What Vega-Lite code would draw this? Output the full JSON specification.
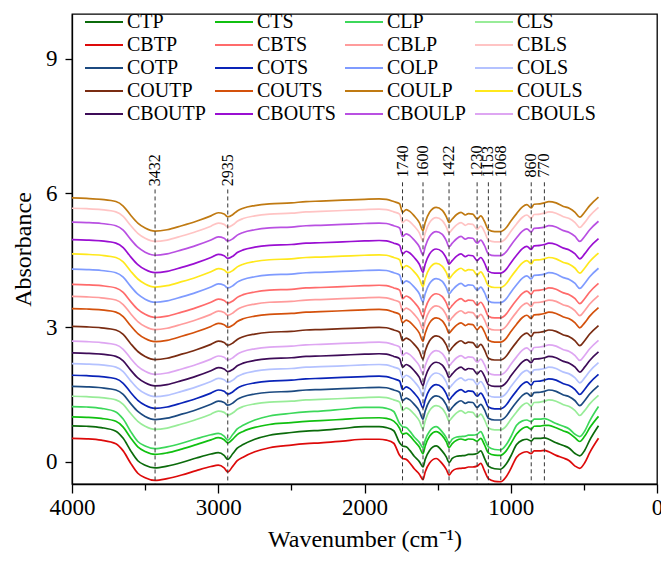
{
  "$schema": "https://vega.github.io/schema/vega-lite/v6.json",
  "width": 585,
  "height": 470,
  "autosize": {"type": "none"},
  "padding": {"left": 72, "top": 14, "right": 4, "bottom": 78},
  "background": "white",
  "config": {
    "font": "Liberation Serif, Times New Roman, Times, serif",
    "view": {"stroke": "black", "strokeWidth": 1.3},
    "text": {"font": "Liberation Serif, Times New Roman, Times, serif"},
    "axis": {"grid": false, "domainColor": "black", "domainWidth": 1.3, "tickColor": "black", "tickWidth": 1.3, "labelColor": "black", "titleColor": "black", "labelFont": "Liberation Serif, Times New Roman, Times, serif", "titleFont": "Liberation Serif, Times New Roman, Times, serif", "labelFontSize": 23, "titleFontSize": 24, "titleFontWeight": "normal"},
    "legend": {"labelFont": "Liberation Serif, Times New Roman, Times, serif"}
  },
  "datasets": {
    "spectra": [
      {"w":4000,"CBTP":0.52,"CTP":0.80,"CTS":1.00,"CLP":1.23,"CLS":1.46,"COTP":1.68,"COTS":1.93,"COLS":2.19,"CBOUTP":2.43,"CBOULS":2.69,"COUTP":3.02,"COUTS":3.42,"CBLP":3.69,"CBTS":3.96,"COLP":4.30,"COULS":4.64,"CBOUTS":4.96,"CBOULP":5.35,"CBLS":5.66,"COULP":5.89},
      {"w":3900,"CBTP":0.51,"CTP":0.79,"CTS":0.99,"CLP":1.22,"CLS":1.45,"COTP":1.67,"COTS":1.92,"COLS":2.18,"CBOUTP":2.42,"CBOULS":2.68,"COUTP":3.01,"COUTS":3.41,"CBLP":3.68,"CBTS":3.95,"COLP":4.29,"COULS":4.63,"CBOUTS":4.95,"CBOULP":5.34,"CBLS":5.65,"COULP":5.88},
      {"w":3800,"CBTP":0.48,"CTP":0.76,"CTS":0.965,"CLP":1.19,"CLS":1.43,"COTP":1.65,"COTS":1.90,"COLS":2.16,"CBOUTP":2.40,"CBOULS":2.66,"COUTP":2.99,"COUTS":3.39,"CBLP":3.66,"CBTS":3.93,"COLP":4.27,"COULS":4.61,"CBOUTS":4.93,"CBOULP":5.32,"CBLS":5.63,"COULP":5.86},
      {"w":3700,"CBTP":0.40,"CTP":0.68,"CTS":0.90,"CLP":1.11,"CLS":1.38,"COTP":1.60,"COTS":1.85,"COLS":2.11,"CBOUTP":2.35,"CBOULS":2.61,"COUTP":2.94,"COUTS":3.34,"CBLP":3.61,"CBTS":3.88,"COLP":4.22,"COULS":4.56,"CBOUTS":4.88,"CBOULP":5.27,"CBLS":5.58,"COULP":5.81},
      {"w":3650,"CBTP":0.24,"CTP":0.52,"CTS":0.77,"CLP":0.95,"CLS":1.28,"COTP":1.50,"COTS":1.75,"COLS":2.01,"CBOUTP":2.25,"CBOULS":2.51,"COUTP":2.84,"COUTS":3.24,"CBLP":3.51,"CBTS":3.78,"COLP":4.12,"COULS":4.46,"CBOUTS":4.78,"CBOULP":5.17,"CBLS":5.48,"COULP":5.71},
      {"w":3600,"CBTP":-0.03,"CTP":0.25,"CTS":0.535,"CLP":0.68,"CLS":1.08,"COTP":1.30,"COTS":1.55,"COLS":1.81,"CBOUTP":2.05,"CBOULS":2.31,"COUTP":2.64,"COUTS":3.04,"CBLP":3.31,"CBTS":3.58,"COLP":3.92,"COULS":4.26,"CBOUTS":4.58,"CBOULP":4.97,"CBLS":5.28,"COULP":5.51},
      {"w":3550,"CBTP":-0.26,"CTP":0.02,"CTS":0.33,"CLP":0.45,"CLS":0.90,"COTP":1.12,"COTS":1.37,"COLS":1.63,"CBOUTP":1.87,"CBOULS":2.13,"COUTP":2.46,"COUTS":2.86,"CBLP":3.13,"CBTS":3.40,"COLP":3.74,"COULS":4.08,"CBOUTS":4.40,"CBOULP":4.79,"CBLS":5.10,"COULP":5.33},
      {"w":3500,"CBTP":-0.36,"CTP":-0.08,"CTS":0.225,"CLP":0.35,"CLS":0.79,"COTP":1.01,"COTS":1.26,"COLS":1.52,"CBOUTP":1.76,"CBOULS":2.02,"COUTP":2.35,"COUTS":2.75,"CBLP":3.02,"CBTS":3.29,"COLP":3.63,"COULS":3.97,"CBOUTS":4.29,"CBOULP":4.68,"CBLS":4.99,"COULP":5.22},
      {"w":3432,"CBTP":-0.42,"CTP":-0.14,"CTS":0.16,"CLP":0.29,"CLS":0.72,"COTP":0.94,"COTS":1.19,"COLS":1.45,"CBOUTP":1.69,"CBOULS":1.95,"COUTP":2.28,"COUTS":2.68,"CBLP":2.95,"CBTS":3.22,"COLP":3.56,"COULS":3.90,"CBOUTS":4.22,"CBOULP":4.61,"CBLS":4.92,"COULP":5.15},
      {"w":3350,"CBTP":-0.38,"CTP":-0.10,"CTS":0.195,"CLP":0.33,"CLS":0.75,"COTP":0.97,"COTS":1.22,"COLS":1.48,"CBOUTP":1.72,"CBOULS":1.98,"COUTP":2.31,"COUTS":2.71,"CBLP":2.98,"CBTS":3.25,"COLP":3.59,"COULS":3.93,"CBOUTS":4.25,"CBOULP":4.64,"CBLS":4.95,"COULP":5.18},
      {"w":3250,"CBTP":-0.30,"CTP":-0.02,"CTS":0.28,"CLP":0.41,"CLS":0.84,"COTP":1.06,"COTS":1.31,"COLS":1.57,"CBOUTP":1.81,"CBOULS":2.07,"COUTP":2.40,"COUTS":2.80,"CBLP":3.07,"CBTS":3.34,"COLP":3.68,"COULS":4.02,"CBOUTS":4.34,"CBOULP":4.73,"CBLS":5.04,"COULP":5.27},
      {"w":3150,"CBTP":-0.20,"CTP":0.08,"CTS":0.38,"CLP":0.51,"CLS":0.94,"COTP":1.16,"COTS":1.41,"COLS":1.67,"CBOUTP":1.91,"CBOULS":2.17,"COUTP":2.50,"COUTS":2.90,"CBLP":3.17,"CBTS":3.44,"COLP":3.78,"COULS":4.12,"CBOUTS":4.44,"CBOULP":4.83,"CBLS":5.14,"COULP":5.37},
      {"w":3050,"CBTP":-0.11,"CTP":0.17,"CTS":0.485,"CLP":0.60,"CLS":1.06,"COTP":1.28,"COTS":1.53,"COLS":1.79,"CBOUTP":2.03,"CBOULS":2.29,"COUTP":2.62,"COUTS":3.02,"CBLP":3.29,"CBTS":3.56,"COLP":3.90,"COULS":4.24,"CBOUTS":4.56,"CBOULP":4.95,"CBLS":5.26,"COULP":5.49},
      {"w":3000,"CBTP":-0.08,"CTP":0.20,"CTS":0.535,"CLP":0.63,"CLS":1.13,"COTP":1.35,"COTS":1.60,"COLS":1.86,"CBOUTP":2.10,"CBOULS":2.36,"COUTP":2.69,"COUTS":3.09,"CBLP":3.36,"CBTS":3.63,"COLP":3.97,"COULS":4.31,"CBOUTS":4.63,"CBOULP":5.02,"CBLS":5.33,"COULP":5.56},
      {"w":2960,"CBTP":-0.14,"CTP":0.14,"CTS":0.49,"CLP":0.57,"CLS":1.10,"COTP":1.32,"COTS":1.57,"COLS":1.83,"CBOUTP":2.07,"CBOULS":2.33,"COUTP":2.66,"COUTS":3.06,"CBLP":3.33,"CBTS":3.60,"COLP":3.94,"COULS":4.28,"CBOUTS":4.60,"CBOULP":4.99,"CBLS":5.30,"COULP":5.53},
      {"w":2935,"CBTP":-0.23,"CTP":0.05,"CTS":0.415,"CLP":0.48,"CLS":1.04,"COTP":1.26,"COTS":1.51,"COLS":1.77,"CBOUTP":2.01,"CBOULS":2.27,"COUTP":2.60,"COUTS":3.00,"CBLP":3.27,"CBTS":3.54,"COLP":3.88,"COULS":4.22,"CBOUTS":4.54,"CBOULP":4.93,"CBLS":5.24,"COULP":5.47},
      {"w":2900,"CBTP":-0.10,"CTP":0.18,"CTS":0.505,"CLP":0.61,"CLS":1.09,"COTP":1.31,"COTS":1.56,"COLS":1.82,"CBOUTP":2.06,"CBOULS":2.32,"COUTP":2.65,"COUTS":3.05,"CBLP":3.32,"CBTS":3.59,"COLP":3.93,"COULS":4.27,"CBOUTS":4.59,"CBOULP":4.98,"CBLS":5.29,"COULP":5.52},
      {"w":2870,"CBTP":0.02,"CTP":0.30,"CTS":0.605,"CLP":0.73,"CLS":1.17,"COTP":1.39,"COTS":1.64,"COLS":1.90,"CBOUTP":2.14,"CBOULS":2.40,"COUTP":2.73,"COUTS":3.13,"CBLP":3.40,"CBTS":3.67,"COLP":4.01,"COULS":4.35,"CBOUTS":4.67,"CBOULP":5.06,"CBLS":5.37,"COULP":5.60},
      {"w":2830,"CBTP":0.10,"CTP":0.38,"CTS":0.675,"CLP":0.81,"CLS":1.23,"COTP":1.45,"COTS":1.70,"COLS":1.96,"CBOUTP":2.20,"CBOULS":2.46,"COUTP":2.79,"COUTS":3.19,"CBLP":3.46,"CBTS":3.73,"COLP":4.07,"COULS":4.41,"CBOUTS":4.73,"CBOULP":5.12,"CBLS":5.43,"COULP":5.66},
      {"w":2750,"CBTP":0.22,"CTP":0.50,"CTS":0.765,"CLP":0.93,"CLS":1.29,"COTP":1.51,"COTS":1.76,"COLS":2.02,"CBOUTP":2.26,"CBOULS":2.52,"COUTP":2.85,"COUTS":3.25,"CBLP":3.52,"CBTS":3.79,"COLP":4.13,"COULS":4.47,"CBOUTS":4.79,"CBOULP":5.18,"CBLS":5.49,"COULP":5.72},
      {"w":2650,"CBTP":0.31,"CTP":0.59,"CTS":0.83,"CLP":1.02,"CLS":1.33,"COTP":1.55,"COTS":1.80,"COLS":2.06,"CBOUTP":2.30,"CBOULS":2.56,"COUTP":2.89,"COUTS":3.29,"CBLP":3.56,"CBTS":3.83,"COLP":4.17,"COULS":4.51,"CBOUTS":4.83,"CBOULP":5.22,"CBLS":5.53,"COULP":5.76},
      {"w":2500,"CBTP":0.37,"CTP":0.65,"CTS":0.87,"CLP":1.08,"CLS":1.35,"COTP":1.57,"COTS":1.82,"COLS":2.08,"CBOUTP":2.32,"CBOULS":2.58,"COUTP":2.91,"COUTS":3.31,"CBLP":3.58,"CBTS":3.85,"COLP":4.19,"COULS":4.53,"CBOUTS":4.85,"CBOULP":5.24,"CBLS":5.55,"COULP":5.78},
      {"w":2400,"CBTP":0.40,"CTP":0.68,"CTS":0.90,"CLP":1.11,"CLS":1.38,"COTP":1.60,"COTS":1.85,"COLS":2.11,"CBOUTP":2.35,"CBOULS":2.61,"COUTP":2.94,"COUTS":3.34,"CBLP":3.61,"CBTS":3.88,"COLP":4.22,"COULS":4.56,"CBOUTS":4.88,"CBOULP":5.27,"CBLS":5.58,"COULP":5.81},
      {"w":2300,"CBTP":0.42,"CTP":0.70,"CTS":0.915,"CLP":1.13,"CLS":1.39,"COTP":1.61,"COTS":1.86,"COLS":2.12,"CBOUTP":2.36,"CBOULS":2.62,"COUTP":2.95,"COUTS":3.35,"CBLP":3.62,"CBTS":3.89,"COLP":4.23,"COULS":4.57,"CBOUTS":4.89,"CBOULP":5.28,"CBLS":5.59,"COULP":5.82},
      {"w":2150,"CBTP":0.46,"CTP":0.74,"CTS":0.945,"CLP":1.17,"CLS":1.41,"COTP":1.63,"COTS":1.88,"COLS":2.14,"CBOUTP":2.38,"CBOULS":2.64,"COUTP":2.97,"COUTS":3.37,"CBLP":3.64,"CBTS":3.91,"COLP":4.25,"COULS":4.59,"CBOUTS":4.91,"CBOULP":5.30,"CBLS":5.61,"COULP":5.84},
      {"w":2000,"CBTP":0.50,"CTP":0.78,"CTS":0.975,"CLP":1.21,"CLS":1.43,"COTP":1.65,"COTS":1.90,"COLS":2.16,"CBOUTP":2.40,"CBOULS":2.66,"COUTP":2.99,"COUTS":3.39,"CBLP":3.66,"CBTS":3.93,"COLP":4.27,"COULS":4.61,"CBOUTS":4.93,"CBOULP":5.32,"CBLS":5.63,"COULP":5.86},
      {"w":1900,"CBTP":0.50,"CTP":0.78,"CTS":0.98,"CLP":1.21,"CLS":1.44,"COTP":1.66,"COTS":1.91,"COLS":2.17,"CBOUTP":2.41,"CBOULS":2.67,"COUTP":3.00,"COUTS":3.40,"CBLP":3.67,"CBTS":3.94,"COLP":4.28,"COULS":4.62,"CBOUTS":4.94,"CBOULP":5.33,"CBLS":5.64,"COULP":5.87},
      {"w":1850,"CBTP":0.48,"CTP":0.76,"CTS":0.965,"CLP":1.19,"CLS":1.43,"COTP":1.65,"COTS":1.90,"COLS":2.16,"CBOUTP":2.40,"CBOULS":2.66,"COUTP":2.99,"COUTS":3.39,"CBLP":3.66,"CBTS":3.93,"COLP":4.27,"COULS":4.61,"CBOUTS":4.93,"CBOULP":5.32,"CBLS":5.63,"COULP":5.86},
      {"w":1800,"CBTP":0.41,"CTP":0.69,"CTS":0.905,"CLP":1.12,"CLS":1.38,"COTP":1.60,"COTS":1.85,"COLS":2.11,"CBOUTP":2.35,"CBOULS":2.61,"COUTP":2.94,"COUTS":3.34,"CBLP":3.61,"CBTS":3.88,"COLP":4.22,"COULS":4.56,"CBOUTS":4.88,"CBOULP":5.27,"CBLS":5.58,"COULP":5.81},
      {"w":1760,"CBTP":0.14,"CTP":0.42,"CTS":0.745,"CLP":0.85,"CLS":1.33,"COTP":1.55,"COTS":1.80,"COLS":2.06,"CBOUTP":2.30,"CBOULS":2.56,"COUTP":2.89,"COUTS":3.29,"CBLP":3.56,"CBTS":3.83,"COLP":4.17,"COULS":4.51,"CBOUTS":4.83,"CBOULP":5.22,"CBLS":5.53,"COULP":5.76},
      {"w":1740,"CBTP":0.07,"CTP":0.35,"CTS":0.615,"CLP":0.78,"CLS":1.14,"COTP":1.36,"COTS":1.61,"COLS":1.87,"CBOUTP":2.11,"CBOULS":2.37,"COUTP":2.70,"COUTS":3.10,"CBLP":3.37,"CBTS":3.64,"COLP":3.98,"COULS":4.32,"CBOUTS":4.64,"CBOULP":5.03,"CBLS":5.34,"COULP":5.57},
      {"w":1715,"CBTP":0.05,"CTP":0.33,"CTS":0.635,"CLP":0.76,"CLS":1.20,"COTP":1.42,"COTS":1.67,"COLS":1.93,"CBOUTP":2.17,"CBOULS":2.43,"COUTP":2.76,"COUTS":3.16,"CBLP":3.43,"CBTS":3.70,"COLP":4.04,"COULS":4.38,"CBOUTS":4.70,"CBOULP":5.09,"CBLS":5.40,"COULP":5.63},
      {"w":1690,"CBTP":-0.03,"CTP":0.25,"CTS":0.575,"CLP":0.68,"CLS":1.16,"COTP":1.38,"COTS":1.63,"COLS":1.89,"CBOUTP":2.13,"CBOULS":2.39,"COUTP":2.72,"COUTS":3.12,"CBLP":3.39,"CBTS":3.66,"COLP":4.00,"COULS":4.34,"CBOUTS":4.66,"CBOULP":5.05,"CBLS":5.36,"COULP":5.59},
      {"w":1660,"CBTP":-0.16,"CTP":0.12,"CTS":0.46,"CLP":0.55,"CLS":1.06,"COTP":1.28,"COTS":1.53,"COLS":1.79,"CBOUTP":2.03,"CBOULS":2.29,"COUTP":2.62,"COUTS":3.02,"CBLP":3.29,"CBTS":3.56,"COLP":3.90,"COULS":4.24,"CBOUTS":4.56,"CBOULP":4.95,"CBLS":5.26,"COULP":5.49},
      {"w":1625,"CBTP":-0.28,"CTP":0.00,"CTS":0.325,"CLP":0.43,"CLS":0.91,"COTP":1.13,"COTS":1.38,"COLS":1.64,"CBOUTP":1.88,"CBOULS":2.14,"COUTP":2.47,"COUTS":2.87,"CBLP":3.14,"CBTS":3.41,"COLP":3.75,"COULS":4.09,"CBOUTS":4.41,"CBOULP":4.80,"CBLS":5.11,"COULP":5.34},
      {"w":1600,"CBTP":-0.40,"CTP":-0.12,"CTS":0.175,"CLP":0.31,"CLS":0.73,"COTP":0.95,"COTS":1.20,"COLS":1.46,"CBOUTP":1.70,"CBOULS":1.96,"COUTP":2.29,"COUTS":2.69,"CBLP":2.96,"CBTS":3.23,"COLP":3.57,"COULS":3.91,"CBOUTS":4.23,"CBOULP":4.62,"CBLS":4.93,"COULP":5.16},
      {"w":1585,"CBTP":-0.23,"CTP":0.05,"CTS":0.35,"CLP":0.48,"CLS":0.91,"COTP":1.13,"COTS":1.38,"COLS":1.64,"CBOUTP":1.88,"CBOULS":2.14,"COUTP":2.47,"COUTS":2.87,"CBLP":3.14,"CBTS":3.41,"COLP":3.75,"COULS":4.09,"CBOUTS":4.41,"CBOULP":4.80,"CBLS":5.11,"COULP":5.34},
      {"w":1555,"CBTP":-0.03,"CTP":0.25,"CTS":0.565,"CLP":0.68,"CLS":1.14,"COTP":1.36,"COTS":1.61,"COLS":1.87,"CBOUTP":2.11,"CBOULS":2.37,"COUTP":2.70,"COUTS":3.10,"CBLP":3.37,"CBTS":3.64,"COLP":3.98,"COULS":4.32,"CBOUTS":4.64,"CBOULP":5.03,"CBLS":5.34,"COULP":5.57},
      {"w":1510,"CBTP":0.07,"CTP":0.35,"CTS":0.67,"CLP":0.78,"CLS":1.25,"COTP":1.47,"COTS":1.72,"COLS":1.98,"CBOUTP":2.22,"CBOULS":2.48,"COUTP":2.81,"COUTS":3.21,"CBLP":3.48,"CBTS":3.75,"COLP":4.09,"COULS":4.43,"CBOUTS":4.75,"CBOULP":5.14,"CBLS":5.45,"COULP":5.68},
      {"w":1470,"CBTP":-0.04,"CTP":0.24,"CTS":0.585,"CLP":0.67,"CLS":1.19,"COTP":1.41,"COTS":1.66,"COLS":1.92,"CBOUTP":2.16,"CBOULS":2.42,"COUTP":2.75,"COUTS":3.15,"CBLP":3.42,"CBTS":3.69,"COLP":4.03,"COULS":4.37,"CBOUTS":4.69,"CBOULP":5.08,"CBLS":5.39,"COULP":5.62},
      {"w":1440,"CBTP":-0.18,"CTP":0.10,"CTS":0.44,"CLP":0.53,"CLS":1.04,"COTP":1.26,"COTS":1.51,"COLS":1.77,"CBOUTP":2.01,"CBOULS":2.27,"COUTP":2.60,"COUTS":3.00,"CBLP":3.27,"CBTS":3.54,"COLP":3.88,"COULS":4.22,"CBOUTS":4.54,"CBOULP":4.93,"CBLS":5.24,"COULP":5.47},
      {"w":1422,"CBTP":-0.30,"CTP":-0.02,"CTS":0.315,"CLP":0.41,"CLS":0.91,"COTP":1.13,"COTS":1.38,"COLS":1.64,"CBOUTP":1.88,"CBOULS":2.14,"COUTP":2.47,"COUTS":2.87,"CBLP":3.14,"CBTS":3.41,"COLP":3.75,"COULS":4.09,"CBOUTS":4.41,"CBOULP":4.80,"CBLS":5.11,"COULP":5.34},
      {"w":1400,"CBTP":-0.21,"CTP":0.07,"CTS":0.40,"CLP":0.50,"CLS":0.99,"COTP":1.21,"COTS":1.46,"COLS":1.72,"CBOUTP":1.96,"CBOULS":2.22,"COUTP":2.55,"COUTS":2.95,"CBLP":3.22,"CBTS":3.49,"COLP":3.83,"COULS":4.17,"CBOUTS":4.49,"CBOULP":4.88,"CBLS":5.19,"COULP":5.42},
      {"w":1370,"CBTP":-0.16,"CTP":0.12,"CTS":0.475,"CLP":0.55,"CLS":1.09,"COTP":1.31,"COTS":1.56,"COLS":1.82,"CBOUTP":2.06,"CBOULS":2.32,"COUTP":2.65,"COUTS":3.05,"CBLP":3.32,"CBTS":3.59,"COLP":3.93,"COULS":4.27,"CBOUTS":4.59,"CBOULP":4.98,"CBLS":5.29,"COULP":5.52},
      {"w":1340,"CBTP":-0.15,"CTP":0.13,"CTS":0.505,"CLP":0.56,"CLS":1.14,"COTP":1.36,"COTS":1.61,"COLS":1.87,"CBOUTP":2.11,"CBOULS":2.37,"COUTP":2.70,"COUTS":3.10,"CBLP":3.37,"CBTS":3.64,"COLP":3.98,"COULS":4.32,"CBOUTS":4.64,"CBOULP":5.03,"CBLS":5.34,"COULP":5.57},
      {"w":1310,"CBTP":-0.14,"CTP":0.14,"CTS":0.48,"CLP":0.57,"CLS":1.08,"COTP":1.30,"COTS":1.55,"COLS":1.81,"CBOUTP":2.05,"CBOULS":2.31,"COUTP":2.64,"COUTS":3.04,"CBLP":3.31,"CBTS":3.58,"COLP":3.92,"COULS":4.26,"CBOUTS":4.58,"CBOULP":4.97,"CBLS":5.28,"COULP":5.51},
      {"w":1290,"CBTP":-0.12,"CTP":0.16,"CTS":0.505,"CLP":0.59,"CLS":1.11,"COTP":1.33,"COTS":1.58,"COLS":1.84,"CBOUTP":2.08,"CBOULS":2.34,"COUTP":2.67,"COUTS":3.07,"CBLP":3.34,"CBTS":3.61,"COLP":3.95,"COULS":4.29,"CBOUTS":4.61,"CBOULP":5.00,"CBLS":5.31,"COULP":5.54},
      {"w":1260,"CBTP":-0.12,"CTP":0.16,"CTS":0.50,"CLP":0.59,"CLS":1.10,"COTP":1.32,"COTS":1.57,"COLS":1.83,"CBOUTP":2.07,"CBOULS":2.33,"COUTP":2.66,"COUTS":3.06,"CBLP":3.33,"CBTS":3.60,"COLP":3.94,"COULS":4.28,"CBOUTS":4.60,"CBOULP":4.99,"CBLS":5.30,"COULP":5.53},
      {"w":1230,"CBTP":-0.10,"CTP":0.18,"CTS":0.455,"CLP":0.61,"CLS":0.99,"COTP":1.21,"COTS":1.46,"COLS":1.72,"CBOUTP":1.96,"CBOULS":2.22,"COUTP":2.55,"COUTS":2.95,"CBLP":3.22,"CBTS":3.49,"COLP":3.83,"COULS":4.17,"CBOUTS":4.49,"CBOULP":4.88,"CBLS":5.19,"COULP":5.42},
      {"w":1205,"CBTP":-0.04,"CTP":0.24,"CTS":0.52,"CLP":0.67,"CLS":1.06,"COTP":1.28,"COTS":1.53,"COLS":1.79,"CBOUTP":2.03,"CBOULS":2.29,"COUTP":2.62,"COUTS":3.02,"CBLP":3.29,"CBTS":3.56,"COLP":3.90,"COULS":4.24,"CBOUTS":4.56,"CBOULP":4.95,"CBLS":5.26,"COULP":5.49},
      {"w":1180,"CBTP":-0.20,"CTP":0.08,"CTS":0.38,"CLP":0.51,"CLS":0.94,"COTP":1.16,"COTS":1.41,"COLS":1.67,"CBOUTP":1.91,"CBOULS":2.17,"COUTP":2.50,"COUTS":2.90,"CBLP":3.17,"CBTS":3.44,"COLP":3.78,"COULS":4.12,"CBOUTS":4.44,"CBOULP":4.83,"CBLS":5.14,"COULP":5.37},
      {"w":1153,"CBTP":-0.38,"CTP":-0.10,"CTS":0.195,"CLP":0.33,"CLS":0.75,"COTP":0.97,"COTS":1.22,"COLS":1.48,"CBOUTP":1.72,"CBOULS":1.98,"COUTP":2.31,"COUTS":2.71,"CBLP":2.98,"CBTS":3.25,"COLP":3.59,"COULS":3.93,"CBOUTS":4.25,"CBOULP":4.64,"CBLS":4.95,"COULP":5.18},
      {"w":1110,"CBTP":-0.44,"CTP":-0.16,"CTS":0.145,"CLP":0.27,"CLS":0.71,"COTP":0.93,"COTS":1.18,"COLS":1.44,"CBOUTP":1.68,"CBOULS":1.94,"COUTP":2.27,"COUTS":2.67,"CBLP":2.94,"CBTS":3.21,"COLP":3.55,"COULS":3.89,"CBOUTS":4.21,"CBOULP":4.60,"CBLS":4.91,"COULP":5.14},
      {"w":1070,"CBTP":-0.45,"CTP":-0.17,"CTS":0.14,"CLP":0.26,"CLS":0.71,"COTP":0.93,"COTS":1.18,"COLS":1.44,"CBOUTP":1.68,"CBOULS":1.94,"COUTP":2.27,"COUTS":2.67,"CBLP":2.94,"CBTS":3.21,"COLP":3.55,"COULS":3.89,"CBOUTS":4.21,"CBOULP":4.60,"CBLS":4.91,"COULP":5.14},
      {"w":1030,"CBTP":-0.33,"CTP":-0.05,"CTS":0.245,"CLP":0.38,"CLS":0.80,"COTP":1.02,"COTS":1.27,"COLS":1.53,"CBOUTP":1.77,"CBOULS":2.03,"COUTP":2.36,"COUTS":2.76,"CBLP":3.03,"CBTS":3.30,"COLP":3.64,"COULS":3.98,"CBOUTS":4.30,"CBOULP":4.69,"CBLS":5.00,"COULP":5.23},
      {"w":1000,"CBTP":-0.16,"CTP":0.12,"CTS":0.40,"CLP":0.55,"CLS":0.94,"COTP":1.16,"COTS":1.41,"COLS":1.67,"CBOUTP":1.91,"CBOULS":2.17,"COUTP":2.50,"COUTS":2.90,"CBLP":3.17,"CBTS":3.44,"COLP":3.78,"COULS":4.12,"CBOUTS":4.44,"CBOULP":4.83,"CBLS":5.14,"COULP":5.37},
      {"w":960,"CBTP":0.10,"CTP":0.38,"CTS":0.615,"CLP":0.81,"CLS":1.11,"COTP":1.33,"COTS":1.58,"COLS":1.84,"CBOUTP":2.08,"CBOULS":2.34,"COUTP":2.67,"COUTS":3.07,"CBLP":3.34,"CBTS":3.61,"COLP":3.95,"COULS":4.29,"CBOUTS":4.61,"CBOULP":5.00,"CBLS":5.31,"COULP":5.54},
      {"w":920,"CBTP":0.20,"CTP":0.48,"CTS":0.74,"CLP":0.91,"CLS":1.26,"COTP":1.48,"COTS":1.73,"COLS":1.99,"CBOUTP":2.23,"CBOULS":2.49,"COUTP":2.82,"COUTS":3.22,"CBLP":3.49,"CBTS":3.76,"COLP":4.10,"COULS":4.44,"CBOUTS":4.76,"CBOULP":5.15,"CBLS":5.46,"COULP":5.69},
      {"w":890,"CBTP":0.22,"CTP":0.50,"CTS":0.775,"CLP":0.93,"CLS":1.31,"COTP":1.53,"COTS":1.78,"COLS":2.04,"CBOUTP":2.28,"CBOULS":2.54,"COUTP":2.87,"COUTS":3.27,"CBLP":3.54,"CBTS":3.81,"COLP":4.15,"COULS":4.49,"CBOUTS":4.81,"CBOULP":5.20,"CBLS":5.51,"COULP":5.74},
      {"w":860,"CBTP":0.18,"CTP":0.46,"CTS":0.72,"CLP":0.89,"CLS":1.24,"COTP":1.46,"COTS":1.71,"COLS":1.97,"CBOUTP":2.21,"CBOULS":2.47,"COUTP":2.80,"COUTS":3.20,"CBLP":3.47,"CBTS":3.74,"COLP":4.08,"COULS":4.42,"CBOUTS":4.74,"CBOULP":5.13,"CBLS":5.44,"COULP":5.67},
      {"w":840,"CBTP":0.24,"CTP":0.52,"CTS":0.79,"CLP":0.95,"CLS":1.32,"COTP":1.54,"COTS":1.79,"COLS":2.05,"CBOUTP":2.29,"CBOULS":2.55,"COUTP":2.88,"COUTS":3.28,"CBLP":3.55,"CBTS":3.82,"COLP":4.16,"COULS":4.50,"CBOUTS":4.82,"CBOULP":5.21,"CBLS":5.52,"COULP":5.75},
      {"w":800,"CBTP":0.24,"CTP":0.52,"CTS":0.795,"CLP":0.95,"CLS":1.33,"COTP":1.55,"COTS":1.80,"COLS":2.06,"CBOUTP":2.30,"CBOULS":2.56,"COUTP":2.89,"COUTS":3.29,"CBLP":3.56,"CBTS":3.83,"COLP":4.17,"COULS":4.51,"CBOUTS":4.83,"CBOULP":5.22,"CBLS":5.53,"COULP":5.76},
      {"w":770,"CBTP":0.25,"CTP":0.53,"CTS":0.81,"CLP":0.96,"CLS":1.35,"COTP":1.57,"COTS":1.82,"COLS":2.08,"CBOUTP":2.32,"CBOULS":2.58,"COUTP":2.91,"COUTS":3.31,"CBLP":3.58,"CBTS":3.85,"COLP":4.19,"COULS":4.53,"CBOUTS":4.85,"CBOULP":5.24,"CBLS":5.55,"COULP":5.78},
      {"w":740,"CBTP":0.22,"CTP":0.50,"CTS":0.81,"CLP":0.93,"CLS":1.38,"COTP":1.60,"COTS":1.85,"COLS":2.11,"CBOUTP":2.35,"CBOULS":2.61,"COUTP":2.94,"COUTS":3.34,"CBLP":3.61,"CBTS":3.88,"COLP":4.22,"COULS":4.56,"CBOUTS":4.88,"CBOULP":5.27,"CBLS":5.58,"COULP":5.81},
      {"w":690,"CBTP":0.14,"CTP":0.42,"CTS":0.755,"CLP":0.85,"CLS":1.35,"COTP":1.57,"COTS":1.82,"COLS":2.08,"CBOUTP":2.32,"CBOULS":2.58,"COUTP":2.91,"COUTS":3.31,"CBLP":3.58,"CBTS":3.85,"COLP":4.19,"COULS":4.53,"CBOUTS":4.85,"CBOULP":5.24,"CBLS":5.55,"COULP":5.78},
      {"w":640,"CBTP":0.08,"CTP":0.36,"CTS":0.685,"CLP":0.79,"CLS":1.27,"COTP":1.49,"COTS":1.74,"COLS":2.00,"CBOUTP":2.24,"CBOULS":2.50,"COUTP":2.83,"COUTS":3.23,"CBLP":3.50,"CBTS":3.77,"COLP":4.11,"COULS":4.45,"CBOUTS":4.77,"CBOULP":5.16,"CBLS":5.47,"COULP":5.70},
      {"w":600,"CBTP":0.02,"CTP":0.30,"CTS":0.635,"CLP":0.73,"CLS":1.23,"COTP":1.45,"COTS":1.70,"COLS":1.96,"CBOUTP":2.20,"CBOULS":2.46,"COUTP":2.79,"COUTS":3.19,"CBLP":3.46,"CBTS":3.73,"COLP":4.07,"COULS":4.41,"CBOUTS":4.73,"CBOULP":5.12,"CBLS":5.43,"COULP":5.66},
      {"w":560,"CBTP":-0.10,"CTP":0.18,"CTS":0.53,"CLP":0.61,"CLS":1.14,"COTP":1.36,"COTS":1.61,"COLS":1.87,"CBOUTP":2.11,"CBOULS":2.37,"COUTP":2.70,"COUTS":3.10,"CBLP":3.37,"CBTS":3.64,"COLP":3.98,"COULS":4.32,"CBOUTS":4.64,"CBOULP":5.03,"CBLS":5.34,"COULP":5.57},
      {"w":528,"CBTP":-0.15,"CTP":0.13,"CTS":0.45,"CLP":0.56,"CLS":1.03,"COTP":1.25,"COTS":1.50,"COLS":1.76,"CBOUTP":2.00,"CBOULS":2.26,"COUTP":2.59,"COUTS":2.99,"CBLP":3.26,"CBTS":3.53,"COLP":3.87,"COULS":4.21,"CBOUTS":4.53,"CBOULP":4.92,"CBLS":5.23,"COULP":5.46},
      {"w":495,"CBTP":-0.03,"CTP":0.25,"CTS":0.565,"CLP":0.68,"CLS":1.14,"COTP":1.36,"COTS":1.61,"COLS":1.87,"CBOUTP":2.11,"CBOULS":2.37,"COUTP":2.70,"COUTS":3.10,"CBLP":3.37,"CBTS":3.64,"COLP":3.98,"COULS":4.32,"CBOUTS":4.64,"CBOULP":5.03,"CBLS":5.34,"COULP":5.57},
      {"w":460,"CBTP":0.20,"CTP":0.48,"CTS":0.755,"CLP":0.91,"CLS":1.29,"COTP":1.51,"COTS":1.76,"COLS":2.02,"CBOUTP":2.26,"CBOULS":2.52,"COUTP":2.85,"COUTS":3.25,"CBLP":3.52,"CBTS":3.79,"COLP":4.13,"COULS":4.47,"CBOUTS":4.79,"CBOULP":5.18,"CBLS":5.49,"COULP":5.72},
      {"w":400,"CBTP":0.52,"CTP":0.80,"CTS":1.01,"CLP":1.23,"CLS":1.48,"COTP":1.70,"COTS":1.95,"COLS":2.21,"CBOUTP":2.45,"CBOULS":2.71,"COUTP":3.04,"COUTS":3.44,"CBLP":3.71,"CBTS":3.98,"COLP":4.32,"COULS":4.66,"CBOUTS":4.98,"CBOULP":5.37,"CBLS":5.68,"COULP":5.91}
    ],
    "peaks": [
      {"w": 3432, "t": "3432", "top": 6.08, "lab": 6.15},
      {"w": 2935, "t": "2935", "top": 6.08, "lab": 6.15},
      {"w": 1740, "t": "1740", "top": 6.24, "lab": 6.35},
      {"w": 1600, "t": "1600", "top": 6.24, "lab": 6.35},
      {"w": 1422, "t": "1422", "top": 6.24, "lab": 6.35},
      {"w": 1230, "t": "1230", "top": 6.24, "lab": 6.35},
      {"w": 1153, "t": "1153", "top": 6.24, "lab": 6.35},
      {"w": 1068, "t": "1068", "top": 6.24, "lab": 6.35},
      {"w": 860, "t": "860", "top": 6.24, "lab": 6.35},
      {"w": 770, "t": "770", "top": 6.24, "lab": 6.35}
    ]
  },
  "layer": [
    {
      "data": {"name": "spectra"},
      "transform": [
        {"fold": ["CTP","CTS","CLP","CLS","CBTP","CBTS","CBLP","CBLS","COTP","COTS","COLP","COLS","COUTP","COUTS","COULP","COULS","CBOUTP","CBOUTS","CBOULP","CBOULS"], "as": ["s", "a"]}
      ],
      "mark": {"type": "line", "strokeWidth": 1.7, "interpolate": "monotone"},
      "encoding": {
        "x": {
          "field": "w", "type": "quantitative",
          "scale": {"domain": [0, 4000], "reverse": true, "nice": false, "zero": false},
          "axis": {
            "title": "Wavenumber (cm⁻¹)",
            "values": [0, 500, 1000, 1500, 2000, 2500, 3000, 3500, 4000],
            "labelExpr": "datum.value % 1000 === 0 ? datum.label : ''",
            "tickSize": {"condition": {"test": "datum.value % 1000 !== 0", "value": 6}, "value": 9},
            "labelPadding": 3,
            "titlePadding": 8,
            "labelFlush": false,
            "format": "d"
          }
        },
        "y": {
          "field": "a", "type": "quantitative",
          "scale": {"domain": [-0.5, 10], "nice": false, "zero": false},
          "axis": {
            "title": "Absorbance",
            "values": [0, 3, 6, 9],
            "tickSize": 7,
            "labelPadding": 8,
            "titlePadding": 10,
            "labelFlush": false
          }
        },
        "color": {
          "field": "s", "type": "nominal", "sort": null,
          "scale": {
            "domain": ["CTP","CBTP","COTP","COUTP","CBOUTP","CTS","CBTS","COTS","COUTS","CBOUTS","CLP","CBLP","COLP","COULP","CBOULP","CLS","CBLS","COLS","COULS","CBOULS"],
            "range": ["#0b6b0b","#dd0a0a","#1c4a80","#7a2c12","#3e0c58","#10c010","#ff6b6b","#0a24b8","#d4510c","#9a0fd2","#3cd85a","#ff9c9c","#7f9bff","#c07a12","#b950e2","#98ec98","#ffc4c4","#b4c2ff","#ffe81c","#dea6f2"]
          },
          "legend": {
            "title": null,
            "orient": "none",
            "legendX": 12,
            "legendY": -2,
            "columns": 4,
            "gridAlign": "all",
            "columnPadding": 8,
            "rowPadding": 3,
            "padding": 0,
            "symbolType": "stroke",
            "symbolSize": 1444,
            "symbolStrokeWidth": 2,
            "labelFont": "Liberation Serif, Times New Roman, Times, serif",
            "labelFontSize": 20,
            "labelColor": "black",
            "labelOffset": 3,
            "labelLimit": 0,
            "clipHeight": 20
          }
        }
      }
    },
    {
      "data": {"name": "peaks"},
      "mark": {"type": "rule", "strokeDash": [4, 3], "strokeWidth": 1, "color": "#333333"},
      "encoding": {
        "x": {"field": "w", "type": "quantitative"},
        "y": {"field": "top", "type": "quantitative"},
        "y2": {"datum": -0.5}
      }
    },
    {
      "data": {"name": "peaks"},
      "mark": {"type": "text", "angle": 270, "align": "left", "baseline": "middle", "font": "Liberation Serif, Times New Roman, Times, serif", "fontSize": 16, "color": "black"},
      "encoding": {
        "x": {"field": "w", "type": "quantitative"},
        "y": {"field": "lab", "type": "quantitative"},
        "text": {"field": "t"}
      }
    }
  ]
}
